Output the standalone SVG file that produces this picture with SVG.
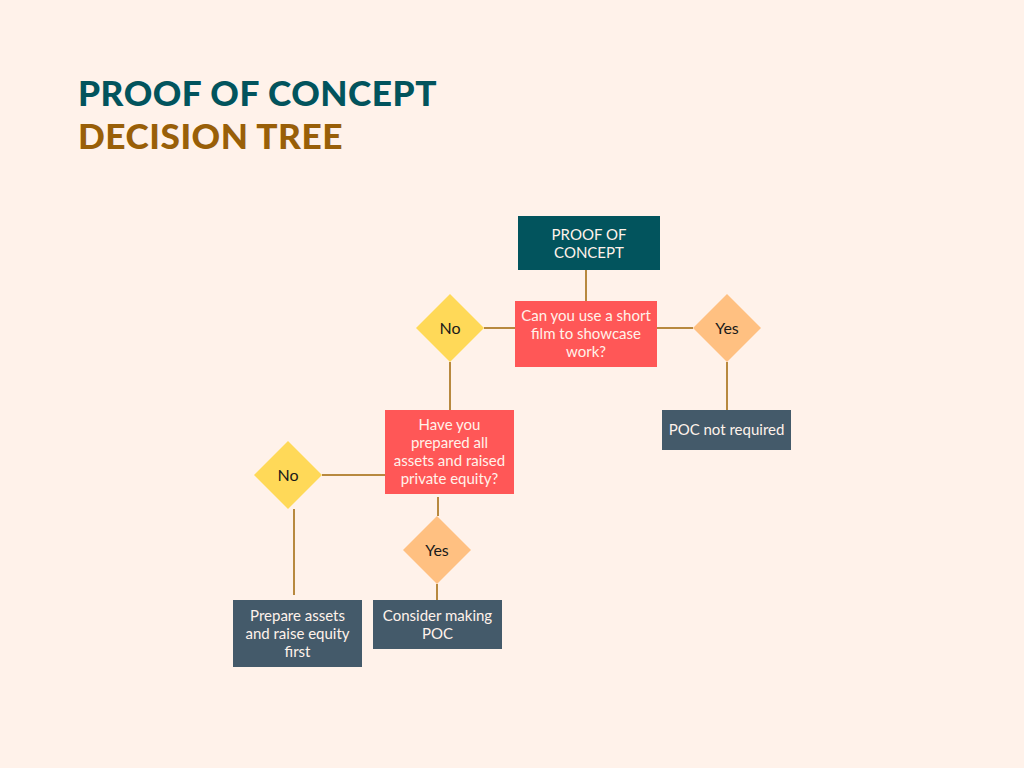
<svg xmlns="http://www.w3.org/2000/svg" width="1024" height="768" viewBox="0 0 1024 768">
<style>
.title{font-family:"Lato","Liberation Sans",sans-serif;font-weight:900;font-size:35px;letter-spacing:0.5px}
.bt{font-family:"Lato","Open Sans","Liberation Sans",sans-serif;font-size:15px;fill:#FFF2EA;text-anchor:middle}
.dt{font-family:"Lato","Open Sans","Liberation Sans",sans-serif;font-size:16px;fill:#1a1a1a;text-anchor:middle}
.con line{stroke:#B8893F;stroke-width:2}
.no{fill:#FFD958}
.yes{fill:#FFC081}
.red{fill:#FF5757}
.slate{fill:#445A6A}
</style>
<rect width="1024" height="768" fill="#FFF2EA"/>
<text class="title" x="78" y="106" fill="#02545D" textLength="359" lengthAdjust="spacingAndGlyphs">PROOF OF CONCEPT</text>
<text class="title" x="78" y="149" fill="#995F08" textLength="265" lengthAdjust="spacingAndGlyphs">DECISION TREE</text>
<g class="con" id="connectors">
<line x1="586" y1="270" x2="586" y2="301"/>
<line x1="484" y1="328" x2="515" y2="328"/>
<line x1="657" y1="328" x2="693" y2="328"/>
<line x1="727" y1="362" x2="727" y2="410"/>
<line x1="450" y1="362" x2="450" y2="410"/>
<line x1="322" y1="475" x2="385" y2="475"/>
<line x1="294" y1="509" x2="294" y2="595"/>
<line x1="438" y1="497" x2="438" y2="516"/>
<line x1="437" y1="584" x2="437" y2="600"/>
</g>
<g id="n-poc">
<rect x="518" y="216" width="142" height="54" fill="#02545D"/>
<text class="bt" x="589" y="240">PROOF OF</text>
<text class="bt" x="589" y="258">CONCEPT</text>
</g>
<g id="n-q1">
<rect class="red" x="515" y="301" width="142" height="66"/>
<text class="bt" x="586" y="321">Can you use a short</text>
<text class="bt" x="586" y="339">film to showcase</text>
<text class="bt" x="586" y="357">work?</text>
</g>
<g id="n-no1">
<polygon class="no" points="450,294 484,328 450,362 416,328"/>
<text class="dt" x="450" y="334">No</text>
</g>
<g id="n-yes1">
<polygon class="yes" points="727,294 761,328 727,362 693,328"/>
<text class="dt" x="727" y="334">Yes</text>
</g>
<g id="n-notreq">
<rect class="slate" x="662" y="410" width="129" height="40"/>
<text class="bt" x="726.5" y="435">POC not required</text>
</g>
<g id="n-q2">
<rect class="red" x="385" y="410" width="129" height="84"/>
<text class="bt" x="449.5" y="430">Have you</text>
<text class="bt" x="449.5" y="448">prepared all</text>
<text class="bt" x="449.5" y="466">assets and raised</text>
<text class="bt" x="449.5" y="484">private equity?</text>
</g>
<g id="n-no2">
<polygon class="no" points="288,441 322,475 288,509 254,475"/>
<text class="dt" x="288" y="481">No</text>
</g>
<g id="n-yes2">
<polygon class="yes" points="437,516 471,550 437,584 403,550"/>
<text class="dt" x="437" y="556">Yes</text>
</g>
<g id="n-prepare">
<rect class="slate" x="233" y="600" width="129" height="67"/>
<text class="bt" x="297.5" y="621">Prepare assets</text>
<text class="bt" x="297.5" y="639">and raise equity</text>
<text class="bt" x="297.5" y="657">first</text>
</g>
<g id="n-consider">
<rect class="slate" x="373" y="600" width="129" height="49"/>
<text class="bt" x="437.5" y="621">Consider making</text>
<text class="bt" x="437.5" y="639">POC</text>
</g>
</svg>
